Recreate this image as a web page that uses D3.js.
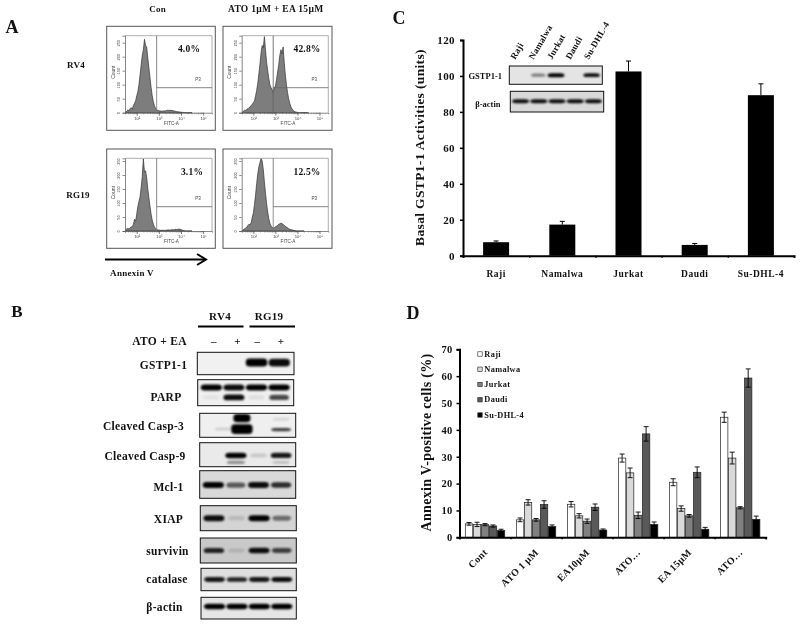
<!DOCTYPE html>
<html><head><meta charset="utf-8">
<script src="https://cdn.jsdelivr.net/npm/d3@7"></script>
<style>
html,body{margin:0;padding:0;background:#fff}
svg{display:block;filter:blur(0.35px)}
text{font-family:"Liberation Serif","Times New Roman",serif;font-weight:bold;fill:#111}
.flow text{font-family:"Liberation Sans",Arial,sans-serif;font-weight:normal;fill:#444}
</style></head><body>
<svg id="c" width="800" height="625"></svg>
<script>
// ---------- Panel C data
const cellLines = ["Raji","Namalwa","Jurkat","Daudi","Su-DHL-4"];
const gstActivity = [7.5,17.3,102.5,6,89.3];
const gstError = [0.7,1.8,5.8,0.8,6.3];
const gstTicks = [0,20,40,60,80,100,120];
const insetGstp = [0,0.45,1,0,0.95];
const insetActin = [0.95,0.95,0.95,0.95,0.95];

// ---------- Panel D data
const treatments = ["Cont","ATO 1 µM","EA10µM","ATO…","EA 15µM","ATO…"];
const annexinTicks = [0,10,20,30,40,50,60,70];
const annexinRaji = [5,6.5,12.3,29.5,20.5,44.7];
const annexinNamalwa = [4.8,13,8,24,10.7,29.5];
const annexinJurkat = [4.7,6.5,6,8.2,8,11];
const annexinDaudi = [4.2,12.2,11.2,38.5,24.2,59.3];
const annexinSu = [2.5,4,2.7,4.8,3,6.7];
const errRaji = [0.5,0.7,1,1.5,1.3,1.9];
const errNamalwa = [0.8,1,0.8,1.8,1,2.2];
const errJurkat = [0.4,0.5,0.8,1.2,0.5,0.4];
const errDaudi = [0.4,1.4,1.2,2.7,2,3.4];
const errSu = [0.5,0.6,0.4,0.9,0.7,1.2];
const seriesFill = ["#ffffff","#d9d9d9","#808080","#595959","#000000"];

// ---------- Panel A data (counts at log10 FITC 1.50, 1.55, … )
const flowLogStart = 1.5, flowLogStep = 0.05;
const flowRv4Con = [2,5,10,7,14,18,12,26,34,42,60,75,100,135,170,205,225,262,240,235,195,160,125,90,60,40,25,16,11,8,7,6,6,5,7,6,7,8,9,8,9,8,8,7,6,5,4,3,3,2,2,1,1,1,0,0,0,0,0,0,0];
const flowRv4Ato = [2,6,9,8,12,14,18,20,26,30,36,42,60,80,105,140,175,215,240,232,272,225,180,150,122,100,90,82,72,90,95,118,145,170,205,225,210,235,180,135,100,72,50,34,22,14,9,5,3,2,1,0,0,0,0,0,0,0,0,0,0];
const flowRg19Con = [3,8,9,7,12,14,16,24,42,35,60,88,105,122,155,195,258,210,215,190,150,118,88,60,38,24,14,9,5,4,3,3,2,3,3,2,3,3,4,4,3,4,5,4,5,6,5,6,7,6,5,3,2,1,0,0,0,0,0,0,0];
const flowRg19Ato = [2,5,8,10,14,20,24,22,30,48,65,95,130,170,205,230,245,272,250,220,175,135,98,68,44,28,18,13,10,12,14,18,20,24,26,28,26,24,20,17,14,12,8,6,5,4,3,2,1,0,0,0,0,0,0,0,0];
const flowPercents = ["4.0%","42.8%","3.1%","12.5%"];
const flowDecades = [2,3,4,5];
const flowCountTicks = [0,50,100,150,200,250];

// ---------- Panel B data (band intensity per lane: RV4 -, RV4 +, RG19 -, RG19 +)
const laneIds = ["RV4-","RV4+","RG19-","RG19+"];
const bandGstp = [0,0,1,0.95];
const bandParpFull = [1,0.95,1,1];
const bandParpCleaved = [0.06,0.95,0.08,0.7];
const bandCasp3Main = [0,1,0,0];
const bandCasp3Upper = [0,1,0,0];
const bandCasp3Faint = [0.15,0,0,0];
const bandCasp3Rg19 = [0,0,0,0.75];
const bandCasp3Rg19Upper = [0,0,0,0.12];
const bandCasp9Main = [0,1,0.15,0.9];
const bandCasp9Lower = [0,0.4,0,0.2];
const bandMcl = [1,0.6,0.95,0.8];
const bandXiap = [0.95,0.13,1,0.5];
const bandSurvivin = [0.85,0.12,0.95,0.7];
const bandCatalase = [0.9,0.85,0.9,0.95];
const bandActin = [1,1,1,1];

const svg = d3.select("#c");
const defs = svg.append("defs");
defs.append("filter").attr("id","bandBlur").attr("x","-30%").attr("y","-60%").attr("width","160%").attr("height","220%")
  .append("feGaussianBlur").attr("stdDeviation",0.9);

function label(t,x,y,size,opt={}){
  const e = svg.append("text").attr("x",x).attr("y",y).attr("font-size",size)
    .attr("text-anchor",opt.anchor||"middle").attr("dominant-baseline","central").text(t);
  if(opt.rotate!==undefined) e.attr("transform",`rotate(${opt.rotate} ${x} ${y})`);
  if(opt.spacing) e.attr("letter-spacing",opt.spacing);
  return e;
}

// Panel letters
label("A",12,27,18);
label("B",17,311,17);
label("C",399,18,18);
label("D",413,313,18);

// ================= Panel A =================
label("Con",157.7,9,9,{spacing:0.3});
label("ATO 1µM + EA 15µM",275.7,9,9.5,{spacing:0.3});
label("RV4",76,65,9,{spacing:0.3});
label("RG19",78,195,9,{spacing:0.3});
label("Annexin V",132,273,9,{spacing:0.3});

const arrow = svg.append("g");
arrow.append("line").attr("x1",105).attr("x2",205).attr("y1",259.5).attr("y2",259.5).attr("stroke","#000").attr("stroke-width",2);
arrow.append("path").attr("d","M197 254 L206 259.5 L197 265").attr("fill","none").attr("stroke","#000").attr("stroke-width",2);

const flowPanels = [
  {vals:flowRv4Con,o:[106.7,26.3,215.3,130.3],p:[125,35.7,212,112.7],hy:87.7,pct:[189,49],dark:false},
  {vals:flowRv4Ato,o:[223,26.3,332,130.3],p:[241.7,35.7,328.3,112.7],hy:87.7,pct:[307,49],dark:true},
  {vals:flowRg19Con,o:[106.7,149,215.3,248.3],p:[125,158.3,212,231],hy:206.7,pct:[192,172],dark:false},
  {vals:flowRg19Ato,o:[223,149,332,248.3],p:[241.7,158.3,328.3,231],hy:206.7,pct:[307,172],dark:false}
];
flowPanels.forEach((fp,i)=>{
  const g = svg.append("g").attr("class","flow");
  g.append("rect").attr("x",fp.o[0]).attr("y",fp.o[1]).attr("width",fp.o[2]-fp.o[0]).attr("height",fp.o[3]-fp.o[1])
    .attr("fill","#fff").attr("stroke","#555").attr("stroke-width",1);
  const [l,t,r,b] = fp.p;
  const x = d3.scaleLog().domain([Math.pow(10,1.47),Math.pow(10,5.4)]).range([l,r]);
  const y = d3.scaleLinear().domain([0,(b-t)/0.28]).range([b,t]);
  const area = d3.area().x((d,j)=>x(Math.pow(10,flowLogStart+flowLogStep*j))).y0(b).y1(d=>Math.max(t,y(d)));
  g.append("path").datum(fp.vals).attr("d",area).attr("fill","#7d7d7d").attr("stroke","#333").attr("stroke-width",0.7);
  // gates
  const gx = x(Math.pow(10,2.9));
  g.append("path").attr("d",`M${l} ${t} H${r} V${b}`).attr("fill","none").attr("stroke","#999").attr("stroke-width",0.8);
  g.append("line").attr("x1",gx).attr("x2",gx).attr("y1",t).attr("y2",fp.dark?b:fp.hy).attr("stroke",fp.dark?"#555":"#666").attr("stroke-width",0.8);
  g.append("line").attr("x1",gx).attr("x2",gx).attr("y1",fp.hy).attr("y2",b).attr("stroke","#777").attr("stroke-width",0.8);
  g.append("line").attr("x1",gx).attr("x2",r).attr("y1",fp.hy).attr("y2",fp.hy).attr("stroke","#666").attr("stroke-width",0.8);
  g.append("text").attr("x",r-14).attr("y",fp.hy-7).attr("font-size",4.5).attr("text-anchor","middle").text("P3");
  // axes
  const minor = [];
  d3.range(1,5).forEach(d=>[2,3,4,5,6,7,8,9].forEach(m=>{const v=m*Math.pow(10,d);if(v>Math.pow(10,1.47)&&v<Math.pow(10,5.4))minor.push(v);}));
  const ax = g.append("g").attr("transform",`translate(0,${b})`)
    .call(d3.axisBottom(x).tickValues(minor).tickSize(1.5).tickFormat(""));
  ax.select(".domain").attr("stroke","#555").attr("stroke-width",0.7);
  ax.selectAll("line").attr("stroke","#555").attr("stroke-width",0.5);
  const ax2 = g.append("g").attr("transform",`translate(0,${b})`)
    .call(d3.axisBottom(x).tickValues(flowDecades.map(d=>Math.pow(10,d))).tickSize(3).tickPadding(1.5)
      .tickFormat(d=>"10"+"⁰¹²³⁴⁵"[Math.round(Math.log10(d))]));
  ax2.select(".domain").remove();
  ax2.selectAll("line").attr("stroke","#444").attr("stroke-width",0.7);
  ax2.selectAll("text").attr("font-size",4.2).attr("font-family",null);
  const ay = g.append("g").attr("transform",`translate(${l},0)`)
    .call(d3.axisLeft(y).tickValues(flowCountTicks).tickSize(2.5).tickPadding(1.5));
  ay.select(".domain").attr("stroke","#555").attr("stroke-width",0.7);
  ay.selectAll("line").attr("stroke","#444").attr("stroke-width",0.6);
  ay.selectAll("text").attr("font-size",4).attr("text-anchor","middle").attr("dy",0).attr("transform",function(){
    const xx=+d3.select(this).attr("x"); return `translate(${xx-1},0) rotate(-90) translate(0,0)`;}).attr("x",0);
  g.append("text").attr("x",(l+r)/2+3).attr("y",fp.o[3]-5.5).attr("font-size",4.6).attr("text-anchor","middle").text("FITC-A");
  g.append("text").attr("font-size",5).attr("text-anchor","middle")
    .attr("transform",`translate(${l-10.5},${(t+b)/2-2}) rotate(-90)`).text("Count");
  label(flowPercents[i],fp.pct[0],fp.pct[1],9.5,{spacing:0.2});
});

// ================= Blot helper =================
function blot(frame,bg,bands,lanes,laneLeft,laneRight,bandH){
  const [x0,y0,x1,y1] = frame;
  const g = svg.append("g");
  g.append("rect").attr("x",x0).attr("y",y0).attr("width",x1-x0).attr("height",y1-y0).attr("fill",bg);
  const lx = d3.scaleBand().domain(lanes).range([laneLeft,laneRight]).paddingInner(0.06);
  const clipId = "cl"+Math.round(x0)+"_"+Math.round(y0);
  defs.append("clipPath").attr("id",clipId).append("rect").attr("x",x0).attr("y",y0).attr("width",x1-x0).attr("height",y1-y0);
  const inner = g.append("g").attr("clip-path",`url(#${clipId})`);
  bands.forEach(b=>{
    const scaleH = b.h||1, scaleW = b.wx||1;
    inner.append("g").attr("filter","url(#bandBlur)").selectAll("rect").data(b.v).join("rect")
      .attr("x",(d,i)=>{
        const w = lx.bandwidth()*(0.75+0.25*d)*scaleW;
        return lx(lanes[i])+lx.bandwidth()/2-w/2+(b.dx||0);
      })
      .attr("width",d=>lx.bandwidth()*(0.75+0.25*d)*scaleW)
      .attr("y",d=>y0+b.f*(y1-y0)-(bandH*scaleH*(0.65+0.35*d))/2)
      .attr("height",d=>bandH*scaleH*(0.65+0.35*d))
      .attr("rx",4).attr("ry",3)
      .attr("fill","#000").attr("opacity",d=>d);
  });
  g.append("rect").attr("x",x0).attr("y",y0).attr("width",x1-x0).attr("height",y1-y0).attr("fill","none").attr("stroke","#111").attr("stroke-width",1);
}

// ================= Panel B =================
label("RV4",220,315.5,11,{spacing:0.3});
label("RG19",269,315.5,11,{spacing:0.3});
svg.append("line").attr("x1",198).attr("x2",243.5).attr("y1",326.5).attr("y2",326.5).attr("stroke","#000").attr("stroke-width",2);
svg.append("line").attr("x1",249.5).attr("x2",295).attr("y1",326.5).attr("y2",326.5).attr("stroke","#000").attr("stroke-width",2);
label("ATO + EA",159.5,341,11.5,{spacing:0.3});
["–","+","–","+"].forEach((s,i)=>label(s,[213.7,237.5,257.3,281][i],341,11));

const blotRows = [
  {name:"GSTP1-1",lx:163.5,ly:365,frame:[197.3,352.3,294,374.7],bg:"#f1f1f1",h:8,
   bands:[{f:.46,v:bandGstp}]},
  {name:"PARP",lx:166,ly:396.5,frame:[197.7,379.7,293.7,405.7],bg:"#f0f0f0",h:6,
   bands:[{f:.3,v:bandParpFull},{f:.68,v:bandParpCleaved}]},
  {name:"Cleaved Casp-3",lx:143.5,ly:425.5,frame:[199.7,413.3,295.7,437.3],bg:"#efefef",h:6,
   bands:[{f:.66,v:bandCasp3Main,dx:6,h:1.6},{f:.2,v:bandCasp3Upper,dx:6,h:1.4,wx:.8},{f:.65,v:bandCasp3Faint,dx:10,h:.6},
          {f:.68,v:bandCasp3Rg19,h:.6},{f:.25,v:bandCasp3Rg19Upper,h:.6}]},
  {name:"Cleaved Casp-9",lx:145,ly:456,frame:[199.7,442.7,295.7,466.7],bg:"#eaeaea",h:5.5,
   bands:[{f:.53,v:bandCasp9Main},{f:.82,v:bandCasp9Lower,h:.7}]},
  {name:"Mcl-1",lx:168.5,ly:486.5,frame:[199.7,470.7,295.7,498.3],bg:"#d9d9d9",h:6,
   bands:[{f:.52,v:bandMcl}]},
  {name:"XIAP",lx:168.5,ly:519,frame:[200.3,505.7,296.3,530.7],bg:"#d4d4d4",h:6,
   bands:[{f:.5,v:bandXiap}]},
  {name:"survivin",lx:167.5,ly:550.5,frame:[200.3,538,296.3,563],bg:"#c9c9c9",h:5.5,
   bands:[{f:.5,v:bandSurvivin}]},
  {name:"catalase",lx:167,ly:578.5,frame:[201,568.3,296.3,590.7],bg:"#dfdfdf",h:5,
   bands:[{f:.5,v:bandCatalase}]},
  {name:"β-actin",lx:164.5,ly:606.5,frame:[201,597.3,296.3,619],bg:"#e6e6e6",h:5.5,
   bands:[{f:.42,v:bandActin}]}
];
blotRows.forEach(r=>{
  blot(r.frame,r.bg,r.bands,laneIds,r.frame[0]+3,r.frame[2]-4,r.h);
  label(r.name,r.lx,r.ly,11.5,{spacing:0.3});
});

// ================= Panel C =================
const cx = d3.scaleBand().domain(cellLines).range([463,794]);
const cxEdge = d3.scaleLinear().domain([0,5]).range([463,794]);
const cy = d3.scaleLinear().domain([0,120]).range([255.7,40]);
const cBar = 26;
const cg = svg.append("g");
cg.selectAll(".err").data(cellLines).join("line")
  .attr("x1",d=>cx(d)+cx.bandwidth()/2).attr("x2",d=>cx(d)+cx.bandwidth()/2)
  .attr("y1",(d,i)=>cy(gstActivity[i])).attr("y2",(d,i)=>cy(gstActivity[i]+gstError[i]))
  .attr("stroke","#000").attr("stroke-width",1);
cg.selectAll(".cap").data(cellLines).join("line")
  .attr("x1",d=>cx(d)+cx.bandwidth()/2-2.5).attr("x2",d=>cx(d)+cx.bandwidth()/2+2.5)
  .attr("y1",(d,i)=>cy(gstActivity[i]+gstError[i])).attr("y2",(d,i)=>cy(gstActivity[i]+gstError[i]))
  .attr("stroke","#000").attr("stroke-width",1);
cg.selectAll("rect").data(cellLines).join("rect")
  .attr("x",d=>cx(d)+cx.bandwidth()/2-cBar/2).attr("width",cBar)
  .attr("y",(d,i)=>cy(gstActivity[i])).attr("height",(d,i)=>cy(0)-cy(gstActivity[i])).attr("fill","#000");
const cay = svg.append("g").attr("transform","translate(463,0)")
  .call(d3.axisLeft(cy).tickValues(gstTicks).tickSize(3).tickPadding(5));
cay.select(".domain").attr("stroke","#000").attr("stroke-width",2);
cay.selectAll("line").attr("stroke","#000").attr("stroke-width",1.5);
cay.selectAll("text").attr("font-size",11).attr("font-family",null).attr("letter-spacing",0.4);
const cax = svg.append("g").attr("transform","translate(0,255.7)")
  .call(d3.axisBottom(cxEdge).tickValues(d3.range(0,6)).tickSize(2).tickFormat(""));
cax.select(".domain").attr("stroke","#000").attr("stroke-width",2);
cax.selectAll("line").attr("stroke","#000").attr("stroke-width",1.5);
cellLines.forEach(n=>label(n,cx(n)+cx.bandwidth()/2,273.5,9.5,{spacing:0.5}));
label("Basal GSTP1-1 Activities (units)",419.5,147.5,13.5,{rotate:-90,spacing:0.35});
// inset
blot([509.3,66,602.3,84.3],"#e4e4e4",[{f:.5,v:insetGstp}],cellLines,512,600,4);
blot([510.3,91.3,603.7,112],"#d9d9d9",[{f:.48,v:insetActin}],cellLines,512,602,4);
label("GSTP1-1",502,76,8.5,{anchor:"end"});
label("β-actin",500.5,104,8.5,{anchor:"end"});
const inX = d3.scaleBand().domain(cellLines).range([507,599]);
cellLines.forEach(n=>{
  const tx = inX(n)+inX.bandwidth()/2-1, ty = 60;
  svg.append("text").attr("x",tx).attr("y",ty).attr("font-size",9).attr("letter-spacing",0.2)
    .attr("text-anchor","start").attr("transform",`rotate(-60 ${tx} ${ty})`).text(n);
});

// ================= Panel D =================
const dx = d3.scaleBand().domain(d3.range(6)).range([459.5,765.7]);
const dxEdge = d3.scaleLinear().domain([0,6]).range([459.5,765.7]);
const dy = d3.scaleLinear().domain([0,70]).range([537.3,349.3]);
const dBarW = 8;
const dInner = d3.scaleBand().domain(d3.range(5)).range([-2.5*dBarW,2.5*dBarW]);
const dSeries = [
  {name:"Raji",v:annexinRaji,e:errRaji},
  {name:"Namalwa",v:annexinNamalwa,e:errNamalwa},
  {name:"Jurkat",v:annexinJurkat,e:errJurkat},
  {name:"Daudi",v:annexinDaudi,e:errDaudi},
  {name:"Su-DHL-4",v:annexinSu,e:errSu}
];
dSeries.forEach((s,si)=>{
  const g = svg.append("g");
  const center = i=>dx(i)+dx.bandwidth()/2+dInner(si)+dBarW/2;
  g.selectAll("rect").data(s.v).join("rect")
    .attr("x",(d,i)=>dx(i)+dx.bandwidth()/2+dInner(si)+0.3).attr("width",dBarW-0.6)
    .attr("y",d=>dy(d)).attr("height",d=>dy(0)-dy(d))
    .attr("fill",seriesFill[si]).attr("stroke","#222").attr("stroke-width",0.7);
  s.v.forEach((d,i)=>{
    const c = center(i), lo=dy(d-s.e[i]), hi=dy(d+s.e[i]);
    g.append("path").attr("d",`M${c-2.5} ${hi} H${c+2.5} M${c} ${hi} V${lo} M${c-2.5} ${lo} H${c+2.5}`)
      .attr("fill","none").attr("stroke","#000").attr("stroke-width",0.9);
  });
});
const day = svg.append("g").attr("transform","translate(459.5,0)")
  .call(d3.axisLeft(dy).tickValues(annexinTicks).tickSize(3).tickPadding(4));
day.select(".domain").attr("stroke","#000").attr("stroke-width",2);
day.selectAll("line").attr("stroke","#000").attr("stroke-width",1.5);
day.selectAll("text").attr("font-size",10.5).attr("font-family",null).attr("letter-spacing",0.3);
const dax = svg.append("g").attr("transform","translate(0,537.3)")
  .call(d3.axisBottom(dxEdge).tickValues(d3.range(0,7)).tickSize(2).tickFormat(""));
dax.select(".domain").attr("stroke","#000").attr("stroke-width",2);
dax.selectAll("line").attr("stroke","#000").attr("stroke-width",1.5);
treatments.forEach((t,i)=>{
  const tx = dx(i)+dx.bandwidth()/2+3, ty = 553;
  svg.append("text").attr("x",tx).attr("y",ty).attr("font-size",10).attr("letter-spacing",0.3)
    .attr("text-anchor","end").attr("transform",`rotate(-45 ${tx} ${ty})`).text(t);
});
label("Annexin V-positive cells (%)",426,442.5,14,{rotate:-90,spacing:0.3});
const legY = d3.scalePoint().domain(dSeries.map(s=>s.name)).range([354,415]);
dSeries.forEach((s,si)=>{
  svg.append("rect").attr("x",477.8).attr("y",legY(s.name)-2.2).attr("width",4.4).attr("height",4.4)
    .attr("fill",seriesFill[si]).attr("stroke","#222").attr("stroke-width",0.6);
  label(s.name,484.3,legY(s.name),8.3,{anchor:"start",spacing:0.35});
});
</script>
</body></html>
